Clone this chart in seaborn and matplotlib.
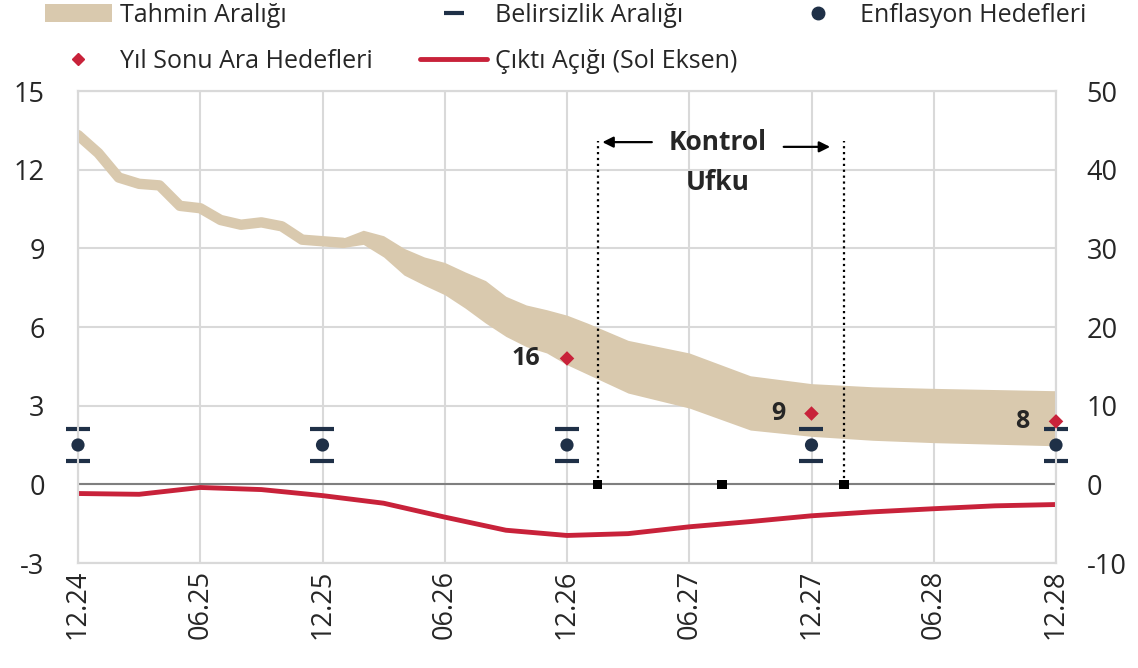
import matplotlib.pyplot as plt
import matplotlib.patches as mpatches
from matplotlib.lines import Line2D
import seaborn as sns

sns.set_style("white")
plt.rcParams['font.family'] = ['Open Sans', 'DejaVu Sans']
plt.rcParams['axes.unicode_minus'] = False

# x axis: months after 12.24
tick_months = [0, 6, 12, 18, 24, 30, 36, 42, 48]
tick_labels = ['12.24', '06.25', '12.25', '06.26', '12.26', '06.27', '12.27', '06.28', '12.28']

# realised inflation (right axis)
hist_months = [0, 1, 2, 3, 4, 5, 6, 7, 8, 9, 10, 11, 12, 13]
hist_infl = [44.4, 42.1, 39.0, 38.2, 38.0, 35.4, 35.1, 33.6, 33.0, 33.3, 32.8, 31.1, 30.9, 30.7]

# forecast range (right axis)
band_months = [13, 14, 15, 16, 17, 18, 19, 20, 21, 22, 23, 24, 25, 27, 30, 33, 36, 39, 42, 45, 48]
band_low = [30.1, 30.5, 28.9, 26.6, 25.3, 24.1, 22.4, 20.5, 18.8, 17.5, 16.7, 15.2, 14.0,
            11.6, 9.7, 6.9, 6.1, 5.6, 5.3, 5.1, 4.9]
band_high = [31.3, 32.3, 31.6, 30.0, 28.9, 28.2, 27.0, 25.9, 23.9, 22.8, 22.2, 21.5, 20.5,
             18.3, 16.7, 13.8, 12.8, 12.4, 12.2, 12.05, 11.9]

# output gap (left axis)
gap_months = [0, 3, 6, 9, 12, 15, 18, 21, 24, 27, 30, 33, 36, 39, 42, 45, 48]
output_gap = [-0.35, -0.38, -0.12, -0.2, -0.43, -0.72, -1.25, -1.75, -1.95, -1.88, -1.62,
              -1.42, -1.2, -1.05, -0.93, -0.82, -0.77]

# inflation targets and uncertainty band (right axis)
target_months = [0, 12, 24, 36, 48]
targets = [5, 5, 5, 5, 5]
unc_low = [3, 3, 3, 3, 3]
unc_high = [7, 7, 7, 7, 7]

# year-end interim targets (right axis)
interim_months = [24, 36, 48]
interim = [16, 9, 8]

# control horizon
horizon_months = [25.5, 31.6, 37.6]

tan = '#d9c9ae'
red = '#c8223a'
navy = '#1f3047'
grid_c = '#d9d9d9'

fig = plt.figure(figsize=(11.38, 6.68), dpi=100)
ax = fig.add_axes([78 / 1138, 1 - 563 / 668, 978 / 1138, 472 / 668])
ax2 = ax.twinx()

ax.set_xlim(0, 48)
ax.set_ylim(-3, 15)
ax2.set_ylim(-10, 50)
ax.set_xticks(tick_months, tick_labels, rotation=90)
ax.set_yticks([-3, 0, 3, 6, 9, 12, 15])
ax2.set_yticks([-10, 0, 10, 20, 30, 40, 50])
ax.tick_params(axis='x', length=0, labelsize=19.5, pad=5)
ax.tick_params(axis='y', length=0, labelsize=19.5, pad=24)
ax2.tick_params(axis='y', length=0, labelsize=19.5, pad=22)
ax.grid(True, color=grid_c, lw=1.5)
for a in (ax, ax2):
    for s in a.spines.values():
        s.set_color(grid_c)
        s.set_linewidth(1.5)

ax.axhline(0, color='#7f7f7f', lw=1.5, zorder=2)
sns.lineplot(x=gap_months, y=output_gap, ax=ax, color=red, lw=3.5, zorder=3)

sns.lineplot(x=hist_months, y=hist_infl, ax=ax2, color=tan, lw=7.5, solid_capstyle='round')
ax2.fill_between(band_months, band_low, band_high, color=tan, lw=0)

# control horizon lines and markers
for m in (horizon_months[0], horizon_months[2]):
    ax2.plot([m, m], [0, 43.6], color='black', ls=':', lw=1.6)
sns.scatterplot(x=horizon_months, y=[0, 0, 0], ax=ax2, marker='s', color='black', s=45,
                edgecolor='none', zorder=6)
ax2.annotate('', xy=(25.6, 43.5), xytext=(28.3, 43.5),
             arrowprops=dict(arrowstyle='-|>', color='black', lw=1.6, mutation_scale=16))
ax2.annotate('', xy=(37.05, 42.9), xytext=(34.5, 42.9),
             arrowprops=dict(arrowstyle='-|>', color='black', lw=1.6, mutation_scale=16))
ax2.text(31.4, 43.4, 'Kontrol', ha='center', va='center', fontsize=19, fontweight='bold')
ax2.text(31.4, 38.4, 'Ufku', ha='center', va='center', fontsize=19, fontweight='bold')

# targets
ax2.plot(target_months, unc_low, ls='none', marker='_', ms=17, mew=3, color=navy, clip_on=False)
ax2.plot(target_months, unc_high, ls='none', marker='_', ms=17, mew=3, color=navy, clip_on=False)
sns.scatterplot(x=target_months, y=targets, ax=ax2, color=navy, s=90, edgecolor='none',
                zorder=5, clip_on=False)
sns.scatterplot(x=interim_months, y=interim, ax=ax2, color=red, marker='D', s=55,
                edgecolor='none', zorder=5, clip_on=False)
for m, v in zip(interim_months, interim):
    ax2.annotate(str(v), xy=(m, v), xytext=(-19, 0), textcoords='offset points',
                 ha='right', va='center', fontsize=18, fontweight='bold')

handles = [
    mpatches.FancyBboxPatch((0, 0), 1, 1, boxstyle='round,pad=0,rounding_size=0.15',
                            facecolor=tan, edgecolor='none'),
    Line2D([], [], ls='none', marker='D', ms=6, color=red),
    Line2D([], [], ls='none', marker='_', ms=14, mew=3, color=navy),
    Line2D([], [], color=red, lw=3.5),
    Line2D([], [], ls='none', marker='o', ms=9, color=navy),
]
labels = ['Tahmin Aralığı', 'Yıl Sonu Ara Hedefleri', 'Belirsizlik Aralığı',
          'Çıktı Açığı (Sol Eksen)', 'Enflasyon Hedefleri']
fig.legend(handles, labels, ncol=3, loc='upper left', bbox_to_anchor=(42 / 1138, 1.0),
           frameon=False, fontsize=18, handlelength=2.7, handletextpad=0.3,
           columnspacing=1.9, labelspacing=0.85, borderpad=0, borderaxespad=0.1)

fig.savefig('out.png', dpi=100)
